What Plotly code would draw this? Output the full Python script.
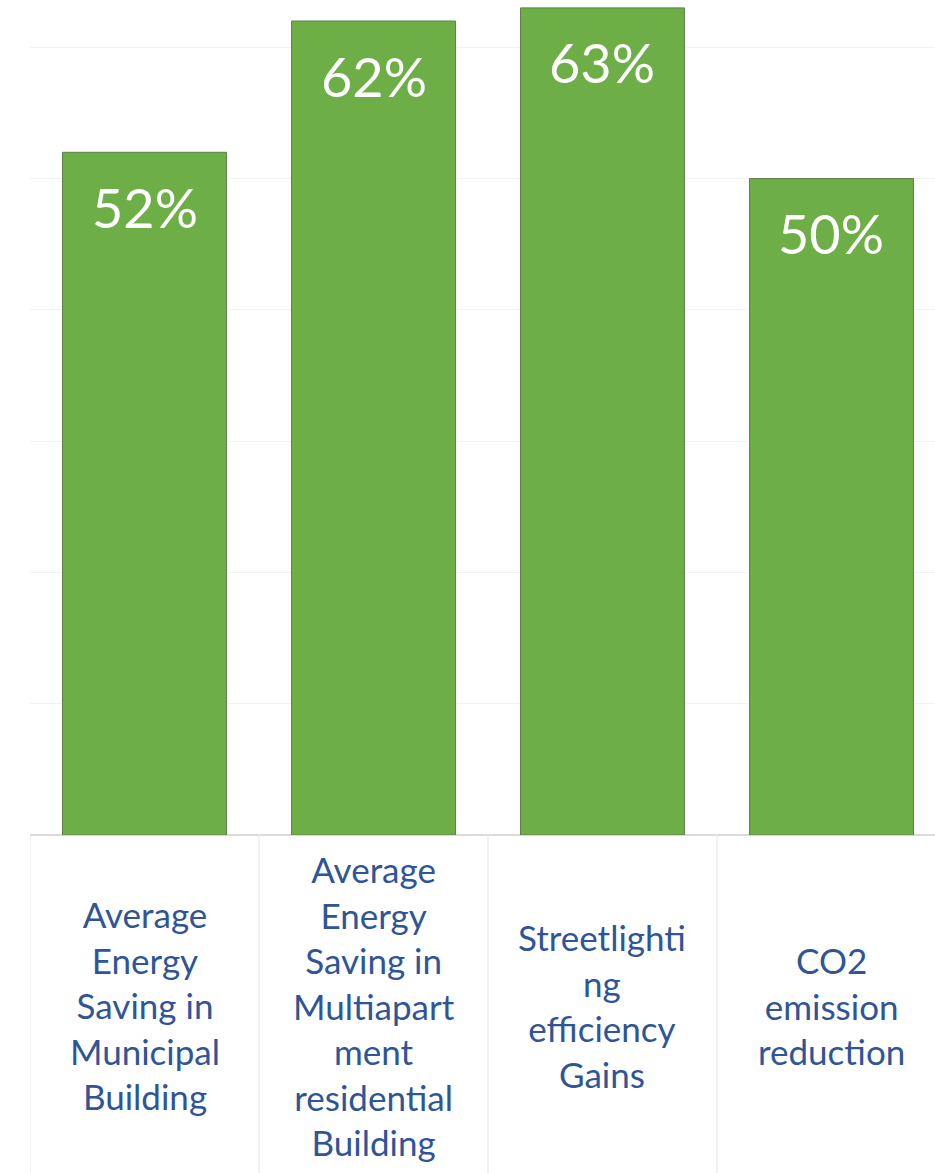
import plotly.graph_objects as go

categories = [
    "Average<br>Energy<br>Saving in<br>Municipal<br>Building",
    "Average<br>Energy<br>Saving in<br>Multiapart<br>ment<br>residential<br>Building",
    "Streetlighti<br>ng<br>efficiency<br>Gains",
    "CO2<br>emission<br>reduction",
]
values = [52, 62, 63, 50]
value_labels = ["52%", "62%", "63%", "50%"]

xs = list(range(len(categories)))

fig = go.Figure()
fig.add_trace(go.Bar(
    x=xs, y=values, width=0.716,
    marker=dict(color="#6DAE46", line=dict(color="#5F7F4C", width=1)),
    hoverinfo="skip", showlegend=False,
))

annotations = []
for i, (v, lab) in enumerate(zip(values, value_labels)):
    annotations.append(dict(
        x=i, y=v, xref="x", yref="y", text=lab, showarrow=False,
        yanchor="middle", yshift=-55,
        font=dict(family="Lato", size=54, color="white"),
    ))
for i, cat in enumerate(categories):
    annotations.append(dict(
        x=i, y=0, xref="x", yref="paper", text=cat, showarrow=False,
        yanchor="middle", yshift=-170, align="center",
        font=dict(family="Lato", size=35, color="#2F5597"),
    ))

shapes = []
for b in [-0.5, 0.5, 1.5, 2.5]:
    shapes.append(dict(type="line", xref="x", yref="paper", x0=b, x1=b,
                       y0=0, y1=-338 / 835, line=dict(color="#EDEDED", width=1.5)))

fig.update_layout(
    width=935, height=1173,
    margin=dict(l=30, r=0, t=0, b=338),
    paper_bgcolor="white", plot_bgcolor="white",
    xaxis=dict(range=[-0.5, 3.452], showticklabels=False, showgrid=False,
               zeroline=False, showline=False, fixedrange=True),
    yaxis=dict(range=[0, 63.6], dtick=10, showticklabels=False,
               gridcolor="#F3F3F3", gridwidth=1, zeroline=True,
               zerolinecolor="#DADADA", zerolinewidth=1.5, showline=False),
    annotations=annotations,
    shapes=shapes,
    bargap=0.3,
)

fig.write_html("out.html")
